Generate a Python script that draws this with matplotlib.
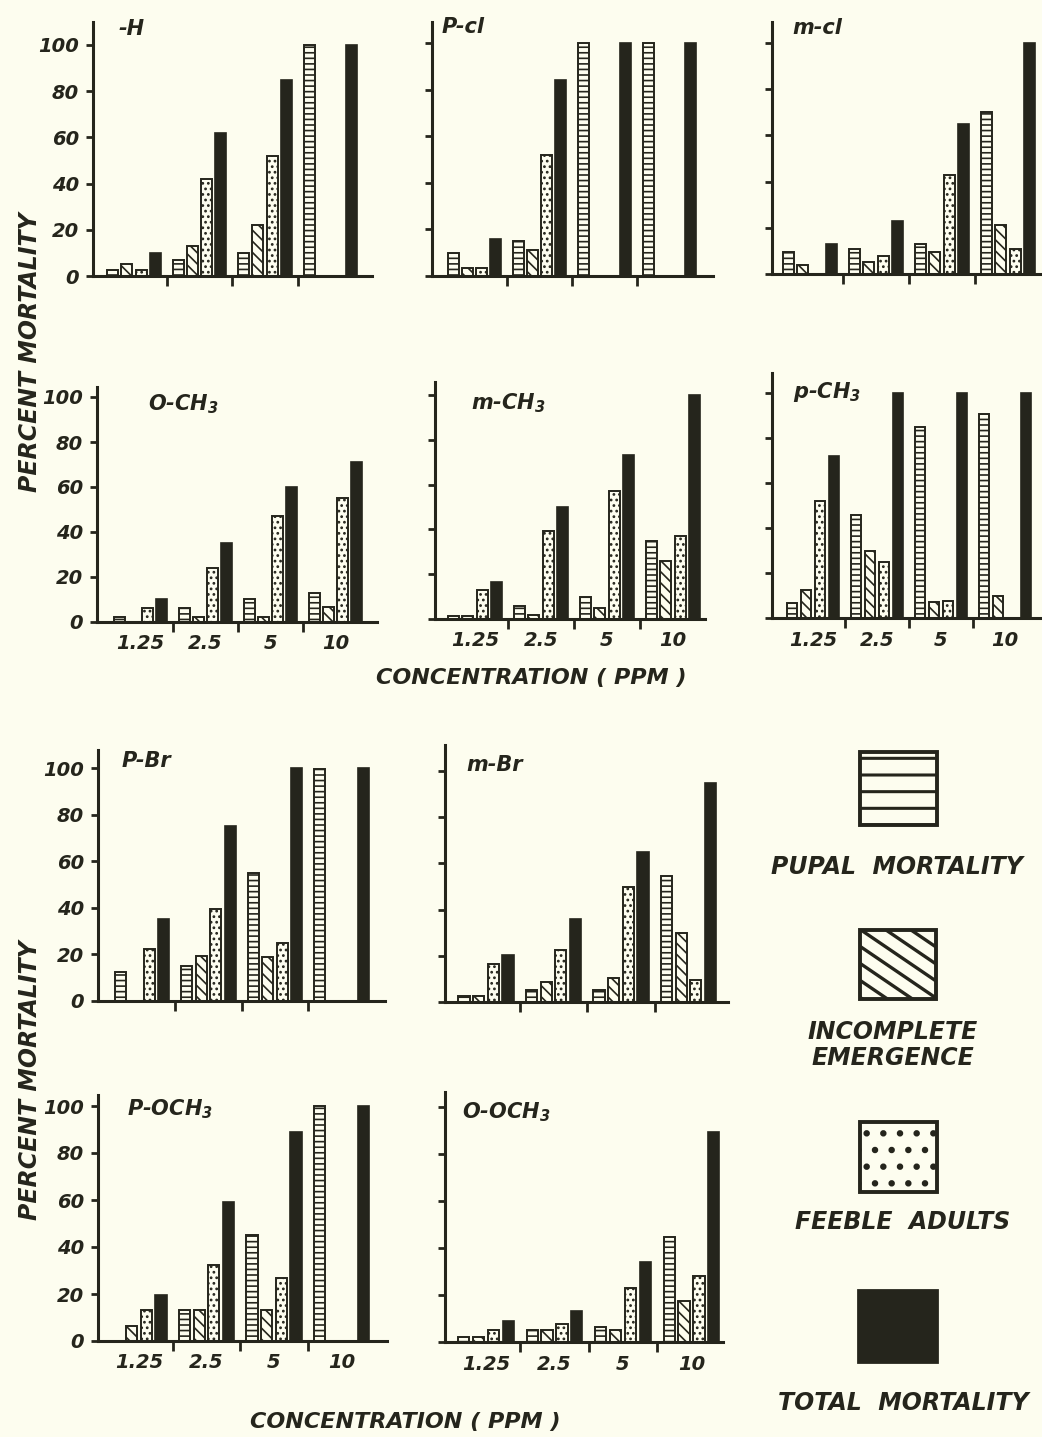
import numpy as np
import matplotlib
matplotlib.use("Agg")
import matplotlib.pyplot as plt
from matplotlib.patches import Rectangle

nan = np.nan

# ---------------- data ----------------
concentrations = ["1.25", "2.5", "5", "10"]
series_names = ["PUPAL  MORTALITY", "INCOMPLETE\nEMERGENCE", "FEEBLE  ADULTS", "TOTAL  MORTALITY"]
y_ticks = [0, 20, 40, 60, 80, 100]

H_pupal = [2.5, 7, 10, 100]
H_incomplete = [5, 13, 22, nan]
H_feeble = [2.5, 42, 52, nan]
H_total = [10, 62, 85, 100]

pCl_pupal = [10, 15, 100, 100]
pCl_incomplete = [3.5, 11, nan, nan]
pCl_feeble = [3.5, 52, nan, nan]
pCl_total = [16, 84, 100, 100]

mCl_pupal = [9.5, 11, 13, 70]
mCl_incomplete = [4, 5, 9.5, 21]
mCl_feeble = [nan, 8, 43, 11]
mCl_total = [13, 23, 65, 100]

oCH3_pupal = [2, 6, 10, 13]
oCH3_incomplete = [nan, 2, 2, 6.5]
oCH3_feeble = [6, 24, 47, 55]
oCH3_total = [10, 35, 60, 71]

mCH3_pupal = [1.5, 6, 10, 35]
mCH3_incomplete = [1.5, 2, 5, 26]
mCH3_feeble = [13, 39.5, 57, 37]
mCH3_total = [16.5, 50, 73, 100]

pCH3_pupal = [6.5, 46, 85, 90.5]
pCH3_incomplete = [12.5, 30, 7, 10]
pCH3_feeble = [52, 25, 7.5, nan]
pCH3_total = [72, 100, 100, 100]

pBr_pupal = [12.5, 15, 55, 99.5]
pBr_incomplete = [nan, 19.5, 19, nan]
pBr_feeble = [22.5, 39.5, 25, nan]
pBr_total = [35, 75, 100, 100]

mBr_pupal = [2.5, 5, 5, 54.5]
mBr_incomplete = [2.5, 8.5, 10.5, 30]
mBr_feeble = [16.5, 22.5, 50, 9.5]
mBr_total = [20.5, 36, 65, 95]

pOCH3_pupal = [nan, 13, 45, 100]
pOCH3_incomplete = [6.5, 13, 13, nan]
pOCH3_feeble = [13, 32.5, 27, nan]
pOCH3_total = [19.5, 59, 89, 100]

oOCH3_pupal = [2, 5, 6.5, 44.5]
oOCH3_incomplete = [2, 5, 5, 17.5]
oOCH3_feeble = [5, 7.5, 23, 28]
oOCH3_total = [9, 13, 34, 89.5]

panel_titles = ["-H", "P-cl", "m-cl", "O-CH$_3$", "m-CH$_3$", "p-CH$_3$",
                "P-Br", "m-Br", "P-OCH$_3$", "O-OCH$_3$"]
panel_data = [
    [H_pupal, H_incomplete, H_feeble, H_total],
    [pCl_pupal, pCl_incomplete, pCl_feeble, pCl_total],
    [mCl_pupal, mCl_incomplete, mCl_feeble, mCl_total],
    [oCH3_pupal, oCH3_incomplete, oCH3_feeble, oCH3_total],
    [mCH3_pupal, mCH3_incomplete, mCH3_feeble, mCH3_total],
    [pCH3_pupal, pCH3_incomplete, pCH3_feeble, pCH3_total],
    [pBr_pupal, pBr_incomplete, pBr_feeble, pBr_total],
    [mBr_pupal, mBr_incomplete, mBr_feeble, mBr_total],
    [pOCH3_pupal, pOCH3_incomplete, pOCH3_feeble, pOCH3_total],
    [oOCH3_pupal, oOCH3_incomplete, oOCH3_feeble, oOCH3_total],
]

# ---------------- layout (pixels) ----------------
W, H = 1042, 1437
# left, right, base, y100, top, group1 centre, group spacing, ylabels, xlabels, title x, title y
layout = [
    (93, 372, 276, 45, 22, 134, 65.5, True, False, 118, 29),
    (432, 713, 276, 43, 22, 474.5, 65, False, False, 442, 27),
    (772, 1040, 274, 43, 22, 810, 66, False, False, 792, 28),
    (97, 377, 622, 397, 387, 140.5, 65, True, True, 148, 404),
    (435, 705, 619, 395, 382, 475, 66, False, True, 471, 403),
    (772, 1042, 618, 393, 373, 813, 64, False, True, 793, 392),
    (98, 385, 1001, 768, 750, 142, 66.5, True, False, 122, 761),
    (445, 728, 1002, 771, 745, 486, 67.5, False, False, 466, 765),
    (98, 387, 1341, 1106, 1095, 139, 67.5, True, True, 127, 1109),
    (445, 723, 1342, 1107, 1092, 486, 68.5, False, True, 462, 1112),
]

ink = "#25251c"
bg = "#fdfdef"
hatches = ["---", "\\\\\\", "...", None]
slot = 0.217
bw = 0.165

plt.rcParams["hatch.linewidth"] = 1.2
plt.rcParams["hatch.color"] = ink
plt.rcParams["mathtext.fontset"] = "custom"
plt.rcParams["mathtext.rm"] = "DejaVu Sans:bold:italic"
plt.rcParams["mathtext.it"] = "DejaVu Sans:bold:italic"
plt.rcParams["mathtext.bf"] = "DejaVu Sans:bold:italic"
plt.rcParams["font.family"] = ["DejaVu Sans"]

fig = plt.figure(figsize=(W / 100, H / 100), dpi=100, facecolor=bg)

tfont = dict(fontweight="bold", fontstyle="italic", color=ink)

for (title, series), lay in zip(zip(panel_titles, panel_data), layout):
    left, right, base, y100, top, c1, sp, ylab, xlab, tx, ty = lay
    ax = fig.add_axes([left / W, 1 - base / H, (right - left) / W, (base - top) / H])
    ax.set_facecolor("none")
    ax.set_xlim((left - c1) / sp, (right - c1) / sp)
    ax.set_ylim(0, 100 * (base - top) / (base - y100))
    groups = np.arange(len(concentrations))
    for k, vals in enumerate(series):
        vals = np.asarray(vals, dtype=float)
        ok = ~np.isnan(vals)
        xs = groups[ok] + (k - 1.5) * slot
        if hatches[k] is None:
            ax.bar(xs, vals[ok], bw, facecolor=ink, edgecolor=ink, linewidth=1.2, zorder=2)
        else:
            ax.bar(xs, vals[ok], bw, facecolor=bg, edgecolor=ink, hatch=hatches[k],
                   linewidth=1.4, zorder=2)
    for s in ["top", "right"]:
        ax.spines[s].set_visible(False)
    for s in ["left", "bottom"]:
        ax.spines[s].set_linewidth(2.2)
        ax.spines[s].set_color(ink)
        ax.spines[s].set_zorder(3)
    ax.set_yticks(y_ticks)
    ax.tick_params(axis="y", direction="out", length=5, width=2, color=ink,
                   labelleft=ylab, labelsize=14, labelcolor=ink, pad=5)
    if ylab:
        for lbl in ax.get_yticklabels():
            lbl.set_fontweight("bold")
            lbl.set_fontstyle("italic")
    ax.set_xticks(groups)
    ax.set_xticks(groups[:-1] + 0.5, minor=True)
    ax.tick_params(axis="x", which="major", length=0, labelbottom=xlab,
                   labelsize=14, labelcolor=ink, pad=9)
    ax.tick_params(axis="x", which="minor", direction="out", length=7, width=2, color=ink)
    if xlab:
        ax.set_xticklabels(concentrations)
        for lbl in ax.get_xticklabels():
            lbl.set_fontweight("bold")
            lbl.set_fontstyle("italic")
    fig.text(tx / W, 1 - ty / H, title, fontsize=15, ha="left", va="center", **tfont)

# ---------------- overlay: labels and legend ----------------
ov = fig.add_axes([0, 0, 1, 1])
ov.set_xlim(0, W)
ov.set_ylim(H, 0)
ov.axis("off")
ov.set_facecolor("none")

ov.text(30, 352, "PERCENT MORTALITY", rotation=90, ha="center", va="center", fontsize=17, **tfont)
ov.text(30, 1080, "PERCENT MORTALITY", rotation=90, ha="center", va="center", fontsize=17, **tfont)
ov.text(531, 678, "CONCENTRATION ( PPM )", ha="center", va="center", fontsize=16, **tfont)
ov.text(405, 1422, "CONCENTRATION ( PPM )", ha="center", va="center", fontsize=16, **tfont)

leg_boxes = [(860, 752, 77, 73), (860, 930, 76, 69), (860, 1122, 77, 70), (858, 1290, 79, 72)]
leg_hatch = ["-", None, ".", None]
leg_text_pos = [(897, 867), (893, 1045), (903, 1222), (903, 1403)]
with plt.rc_context({"hatch.linewidth": 2.2}):
    for k in range(4):
        x0, y0, bwid, bht = leg_boxes[k]
        if k == 3:
            r = Rectangle((x0, y0), bwid, bht, facecolor=ink, edgecolor=ink, linewidth=2)
            ov.add_patch(r)
        elif k == 1:
            r = Rectangle((x0, y0), bwid, bht, facecolor=bg, edgecolor="none")
            ov.add_patch(r)
            slope = 0.68
            for xt in np.arange(x0 + 51, x0 - 120, -25.0):
                xs = np.array([xt, xt + 200])
                ln, = ov.plot(xs, y0 + slope * (xs - xt), color=ink, lw=2.4,
                              solid_capstyle="butt")
                ln.set_clip_path(r)
            ov.add_patch(Rectangle((x0, y0), bwid, bht, facecolor="none",
                                   edgecolor=ink, linewidth=2.8))
        else:
            r = Rectangle((x0, y0), bwid, bht, facecolor=bg, edgecolor=ink,
                          hatch=leg_hatch[k], linewidth=2.8)
            ov.add_patch(r)
for k in range(4):
    tx, ty = leg_text_pos[k]
    ov.text(tx, ty, series_names[k], ha="center", va="center", fontsize=17,
            linespacing=1.1, **tfont)

fig.savefig("out.png", dpi=100, facecolor=bg)
